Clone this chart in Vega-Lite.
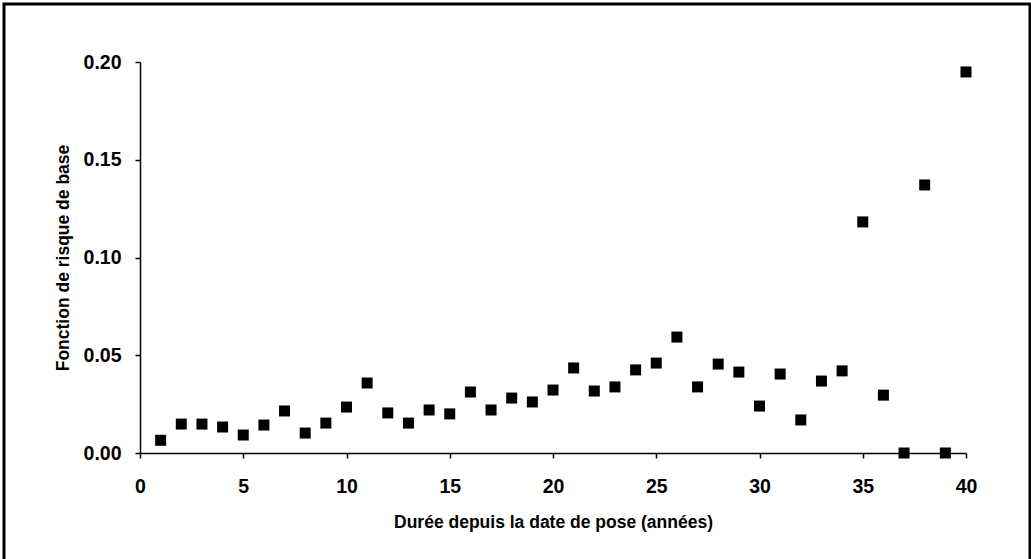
{
  "$schema": "https://vega.github.io/schema/vega-lite/v6.json",
  "width": 1026,
  "height": 562,
  "autosize": {"type": "none"},
  "padding": {"left": 4, "top": 4, "right": 1, "bottom": 0},
  "background": "white",
  "config": {
    "view": {"stroke": "black", "strokeWidth": 3},
    "font": "Liberation Sans",
    "axis": {
      "domainColor": "black",
      "domainWidth": 1.5,
      "tickColor": "black",
      "tickWidth": 1.5,
      "tickSize": 5,
      "grid": false,
      "labelColor": "black",
      "labelFont": "Liberation Sans",
      "labelFontSize": 19.5,
      "labelFontWeight": "bold",
      "titleColor": "black",
      "titleFont": "Liberation Sans",
      "titleFontSize": 17.5,
      "titleFontWeight": "bold"
    }
  },
  "data": {
    "values": [
      {"t": 1, "h": 0.0065},
      {"t": 2, "h": 0.0148},
      {"t": 3, "h": 0.0148},
      {"t": 4, "h": 0.0133},
      {"t": 5, "h": 0.0092},
      {"t": 6, "h": 0.0143},
      {"t": 7, "h": 0.0215},
      {"t": 8, "h": 0.0102},
      {"t": 9, "h": 0.0153},
      {"t": 10, "h": 0.0235},
      {"t": 11, "h": 0.0358},
      {"t": 12, "h": 0.0205},
      {"t": 13, "h": 0.0153},
      {"t": 14, "h": 0.0220},
      {"t": 15, "h": 0.0200},
      {"t": 16, "h": 0.0312},
      {"t": 17, "h": 0.0220},
      {"t": 18, "h": 0.0281},
      {"t": 19, "h": 0.0261},
      {"t": 20, "h": 0.0322},
      {"t": 21, "h": 0.0435},
      {"t": 22, "h": 0.0317},
      {"t": 23, "h": 0.0338},
      {"t": 24, "h": 0.0425},
      {"t": 25, "h": 0.0460},
      {"t": 26, "h": 0.0593},
      {"t": 27, "h": 0.0338},
      {"t": 28, "h": 0.0455},
      {"t": 29, "h": 0.0414},
      {"t": 30, "h": 0.0240},
      {"t": 31, "h": 0.0404},
      {"t": 32, "h": 0.0169},
      {"t": 33, "h": 0.0368},
      {"t": 34, "h": 0.0420},
      {"t": 35, "h": 0.1182},
      {"t": 36, "h": 0.0296},
      {"t": 37, "h": 0.0},
      {"t": 38, "h": 0.1371},
      {"t": 39, "h": 0.0},
      {"t": 40, "h": 0.1949}
    ]
  },
  "mark": {"type": "square", "size": 121, "color": "black", "opacity": 1, "clip": false},
  "encoding": {
    "x": {
      "field": "t",
      "type": "quantitative",
      "scale": {"domain": [0, 40], "range": [136, 962], "nice": false, "zero": false},
      "axis": {
        "title": "Durée depuis la date de pose (années)",
        "values": [0, 5, 10, 15, 20, 25, 30, 35, 40],
        "format": "d",
        "offset": -113,
        "labelPadding": 19,
        "titlePadding": 18,
        "labelFlush": false
      }
    },
    "y": {
      "field": "h",
      "type": "quantitative",
      "scale": {"domain": [0, 0.2], "range": [449, 58], "nice": false, "zero": false},
      "axis": {
        "title": "Fonction de risque de base",
        "values": [0, 0.05, 0.1, 0.15, 0.2],
        "format": ".2f",
        "offset": -136,
        "labelPadding": 14,
        "titlePadding": 11,
        "labelFlush": false
      }
    }
  }
}
